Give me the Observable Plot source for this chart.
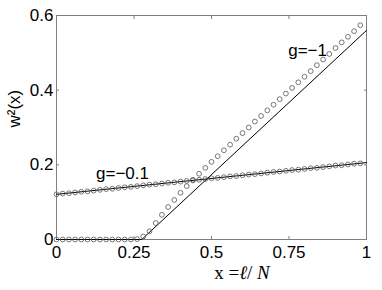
<!DOCTYPE html>
<html><head><meta charset="utf-8">
<script src="https://cdn.jsdelivr.net/npm/d3@7"></script>
<script src="https://cdn.jsdelivr.net/npm/@observablehq/plot@0.6"></script>
<style>body{margin:0;background:#fff}</style>
</head><body><div id="chart"></div>
<script>
// x = ℓ/N sample positions
const ell = [0.00,0.02,0.04,0.06,0.08,0.10,0.12,0.14,0.16,0.18,
             0.20,0.22,0.24,0.26,0.28,0.30,0.32,0.34,0.36,0.38,
             0.40,0.42,0.44,0.46,0.48,0.50,0.52,0.54,0.56,0.58,
             0.60,0.62,0.64,0.66,0.68,0.70,0.72,0.74,0.76,0.78,
             0.80,0.82,0.84,0.86,0.88,0.90,0.92,0.94,0.96,0.98];
// circles, g = -0.1
const wSmall = [0.121,0.123,0.124,0.126,0.128,0.129,0.131,0.133,0.135,0.136,
                0.138,0.140,0.141,0.143,0.145,0.147,0.148,0.150,0.152,0.153,
                0.155,0.157,0.158,0.160,0.162,0.164,0.165,0.167,0.169,0.170,
                0.172,0.174,0.175,0.177,0.179,0.181,0.182,0.184,0.186,0.187,
                0.189,0.191,0.192,0.194,0.196,0.198,0.199,0.201,0.203,0.204];
// circles, g = -1
const wBig = [0,0,0,0,0,0,0,0,0,0,
              0,0,0,0.001,0.008,0.022,0.044,0.066,0.087,0.106,
              0.125,0.143,0.160,0.176,0.192,0.208,0.223,0.239,0.254,0.270,
              0.285,0.300,0.316,0.331,0.346,0.361,0.376,0.391,0.406,0.421,
              0.436,0.451,0.467,0.482,0.497,0.513,0.528,0.543,0.558,0.574];
// theory lines
const lineSmallX = [0, 1];
const lineSmallY = [0.121, 0.206];
const lineBigX = [0, 0.275, 1];
const lineBigY = [0, 0, 0.56];
// ticks
const xTicks = [0, 0.25, 0.5, 0.75, 1];
const xTickLabels = ["0", "0.25", "0.5", "0.75", "1"];
const yTicks = [0, 0.2, 0.4, 0.6];
const yTickLabels = ["0", "0.2", "0.4", "0.6"];
// curve annotations
const annotText = ["g=\u22121", "g=\u22120.1"];
const annotX = [0.81, 0.213];
const annotY = [0.505, 0.176];

const small = ell.map((x, i) => ({x, y: wSmall[i]}));
const big = ell.map((x, i) => ({x, y: wBig[i]}));
const lSmall = lineSmallX.map((x, i) => ({x, y: lineSmallY[i]}));
const lBig = lineBigX.map((x, i) => ({x, y: lineBigY[i]}));
const annots = annotText.map((t, i) => ({t, x: annotX[i], y: annotY[i]}));

const axisGray = "#808080";
const dotStroke = "#555";

const chart = Plot.plot({
  width: 382, height: 290,
  marginLeft: 56, marginRight: 16, marginTop: 15, marginBottom: 51,
  style: {fontFamily: "'Liberation Sans', Arial, sans-serif", fontSize: "17px", background: "#fff", color: "#000", overflow: "visible"},
  x: {domain: [0, 1], label: null},
  y: {domain: [0, 0.6], label: null},
  marks: [
    Plot.frame({stroke: axisGray}),
    Plot.axisX(xTicks, {anchor: "bottom", tickSize: -3, stroke: axisGray, label: null, tickFormat: () => ""}),
    Plot.axisX(xTicks, {anchor: "top", tickSize: -3, stroke: axisGray, label: null, tickFormat: () => ""}),
    Plot.axisY(yTicks, {anchor: "left", tickSize: -3, stroke: axisGray, label: null, tickFormat: () => ""}),
    Plot.axisY(yTicks, {anchor: "right", tickSize: -3, stroke: axisGray, label: null, tickFormat: () => ""}),
    Plot.axisX(xTicks, {anchor: "bottom", tickSize: 0, tickPadding: 6, label: null, tickFormat: d => xTickLabels[xTicks.indexOf(d)]}),
    Plot.axisY(yTicks, {anchor: "left", tickSize: 0, tickPadding: 3, label: null, tickFormat: d => yTickLabels[yTicks.indexOf(d)]}),
    Plot.line(lSmall, {x: "x", y: "y", stroke: "#000", strokeWidth: 1}),
    Plot.line(lBig, {x: "x", y: "y", stroke: "#000", strokeWidth: 1}),
    Plot.dot(small, {x: "x", y: "y", r: 2.4, stroke: dotStroke, fill: "none", strokeWidth: 0.8}),
    Plot.dot(big, {x: "x", y: "y", r: 2.4, stroke: dotStroke, fill: "none", strokeWidth: 0.8}),
    Plot.text(annots, {x: "x", y: "y", text: "t", fill: "#000", fontSize: 17}),
    Plot.text(["w\u00b2(x)"], {frameAnchor: "left", rotate: -90, dx: -42, fill: "#000", fontSize: 17})
  ]
});
document.getElementById("chart").appendChild(chart);

// x-axis label with math styling
const sx = chart.scale("x");
const svg = d3.select(chart);
const xl = svg.append("text")
  .attr("x", sx.apply(0.5) + 31)
  .attr("y", 279)
  .attr("text-anchor", "middle")
  .attr("font-family", "'Liberation Serif', 'Times New Roman', serif")
  .attr("font-size", 19)
  .attr("fill", "#000");
xl.append("tspan").text("x ");
xl.append("tspan").text("=");
xl.append("tspan").attr("font-style", "italic").text("\u2113");
xl.append("tspan").text("/");
xl.append("tspan").attr("font-style", "italic").text(" N");
</script>
</body></html>
